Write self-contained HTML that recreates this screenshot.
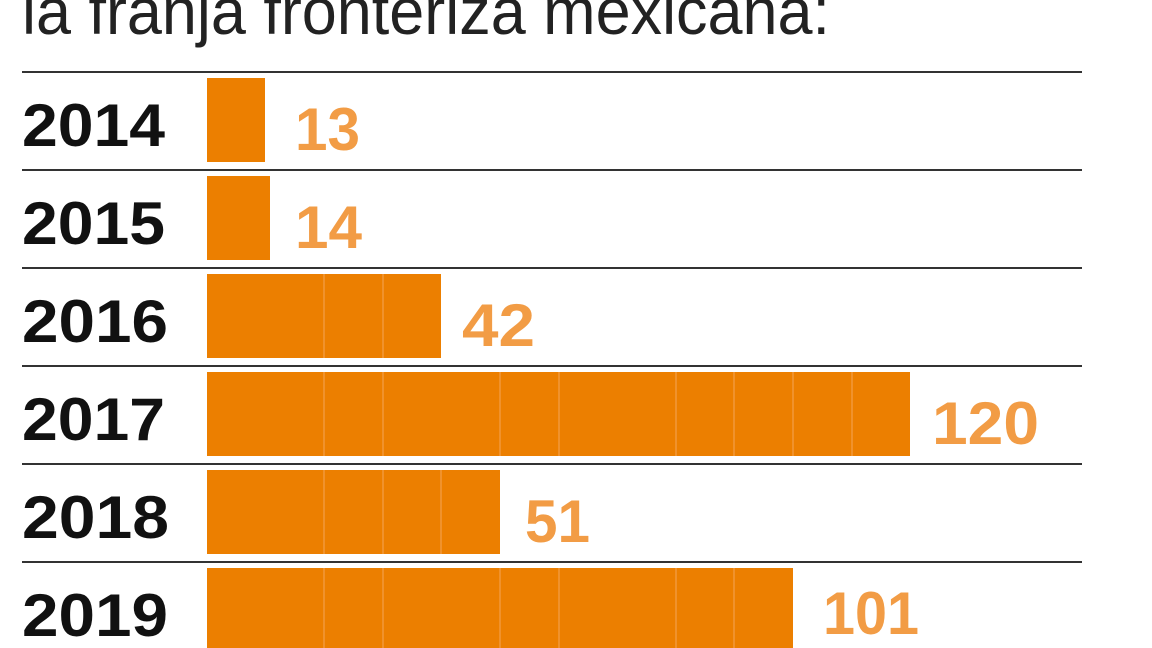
<!DOCTYPE html>
<html><head><meta charset="utf-8"><style>html,body{margin:0;padding:0;background:#fff}svg{display:block}</style></head>
<body>
<svg width="1152" height="648" viewBox="0 0 1152 648" xmlns="http://www.w3.org/2000/svg">
<text x="22" y="34" font-family="Liberation Sans, sans-serif" font-size="66" fill="#222" textLength="808" lengthAdjust="spacingAndGlyphs">la franja fronteriza mexicana:</text>
<g stroke="#333" stroke-width="2">
<line x1="22" y1="72" x2="1082" y2="72"/>
<line x1="22" y1="170" x2="1082" y2="170"/>
<line x1="22" y1="268" x2="1082" y2="268"/>
<line x1="22" y1="366" x2="1082" y2="366"/>
<line x1="22" y1="464" x2="1082" y2="464"/>
<line x1="22" y1="562" x2="1082" y2="562"/>
</g>
<g fill="#ec7f00">
<rect x="207" y="78" width="58" height="84"/>
<rect x="207" y="176" width="63" height="84"/>
<rect x="207" y="274" width="234" height="84"/>
<rect x="207" y="372" width="703" height="84"/>
<rect x="207" y="470" width="293" height="84"/>
<rect x="207" y="568" width="586" height="84"/>
</g>
<g stroke="#f3a04a" stroke-width="1.2">
<line x1="324" y1="274" x2="324" y2="358"/><line x1="383" y1="274" x2="383" y2="358"/>
<line x1="324" y1="372" x2="324" y2="456"/><line x1="383" y1="372" x2="383" y2="456"/><line x1="500" y1="372" x2="500" y2="456"/><line x1="559" y1="372" x2="559" y2="456"/><line x1="676" y1="372" x2="676" y2="456"/><line x1="734" y1="372" x2="734" y2="456"/><line x1="793" y1="372" x2="793" y2="456"/><line x1="852" y1="372" x2="852" y2="456"/>
<line x1="324" y1="470" x2="324" y2="554"/><line x1="383" y1="470" x2="383" y2="554"/><line x1="441" y1="470" x2="441" y2="554"/>
<line x1="324" y1="568" x2="324" y2="648"/><line x1="383" y1="568" x2="383" y2="648"/><line x1="500" y1="568" x2="500" y2="648"/><line x1="559" y1="568" x2="559" y2="648"/><line x1="676" y1="568" x2="676" y2="648"/><line x1="734" y1="568" x2="734" y2="648"/>
</g>
<g font-family="Liberation Sans, sans-serif" font-weight="bold" font-size="60" fill="#111">
<text x="22" y="146" textLength="143" lengthAdjust="spacingAndGlyphs">2014</text>
<text x="22" y="244" textLength="143" lengthAdjust="spacingAndGlyphs">2015</text>
<text x="22" y="342" textLength="146" lengthAdjust="spacingAndGlyphs">2016</text>
<text x="22" y="440" textLength="143" lengthAdjust="spacingAndGlyphs">2017</text>
<text x="22" y="538" textLength="147" lengthAdjust="spacingAndGlyphs">2018</text>
<text x="22" y="636" textLength="146" lengthAdjust="spacingAndGlyphs">2019</text>
</g>
<g font-family="Liberation Sans, sans-serif" font-weight="bold" font-size="60" fill="#f29c45">
<text x="295" y="150" textLength="65" lengthAdjust="spacingAndGlyphs">13</text>
<text x="295" y="248" textLength="67" lengthAdjust="spacingAndGlyphs">14</text>
<text x="462" y="346" textLength="73" lengthAdjust="spacingAndGlyphs">42</text>
<text x="932" y="444" textLength="107" lengthAdjust="spacingAndGlyphs">120</text>
<text x="525" y="542" textLength="65" lengthAdjust="spacingAndGlyphs">51</text>
<text x="823" y="634" textLength="96" lengthAdjust="spacingAndGlyphs">101</text>
</g>
</svg>
</body></html>
